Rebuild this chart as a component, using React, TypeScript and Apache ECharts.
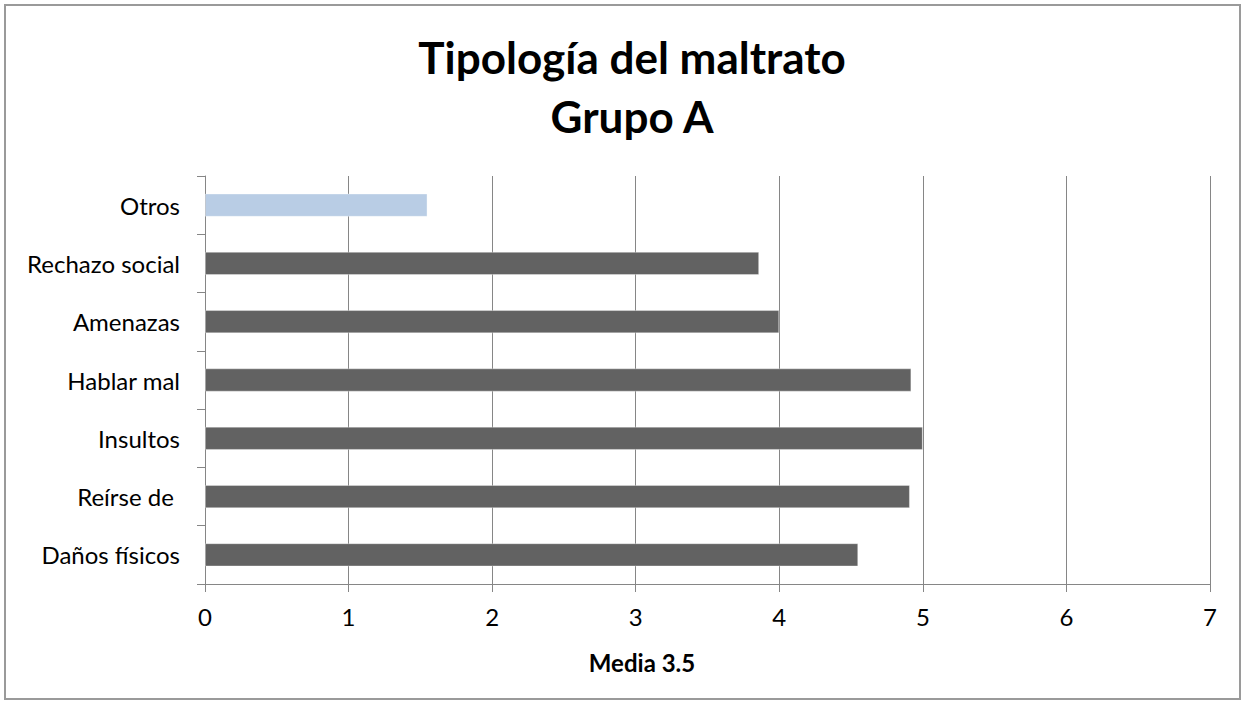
import React, { useEffect, useRef } from "react";
import * as echarts from "echarts";

const categories = ["Daños físicos", "Reírse de ", "Insultos", "Hablar mal", "Amenazas", "Rechazo social", "Otros"];
const values = [4.55, 4.91, 5.0, 4.92, 4.0, 3.86, 1.55];
const barColors = ["#626262", "#626262", "#626262", "#626262", "#626262", "#626262", "#b9cde5"];
const xTicks = { min: 0, max: 7, interval: 1 };
const titleLine1 = "Tipología del maltrato";
const titleLine2 = "Grupo A";
const xAxisTitle = "Media 3.5";

const FONT = "Lato";
const GRAY = "#868686";

export default function App() {
  const ref = useRef<HTMLDivElement>(null);
  useEffect(() => {
    if (!ref.current) return;
    const chart = echarts.init(ref.current, null, { renderer: "svg" });
    chart.setOption({
      animation: false,
      backgroundColor: "#ffffff",
      title: [
        {
          text: titleLine1,
          left: 627,
          top: 30,
          textAlign: "center",
          textStyle: { fontFamily: FONT, fontWeight: "bold", fontSize: 44, color: "#000" },
        },
        {
          text: titleLine2,
          left: 627,
          top: 89,
          textAlign: "center",
          textStyle: { fontFamily: FONT, fontWeight: "bold", fontSize: 44, color: "#000" },
        },
      ],
      graphic: [
        {
          type: "rect",
          shape: { x: 5, y: 5, width: 1235, height: 694 },
          style: { fill: "none", stroke: "#9a9a9a", lineWidth: 2 },
          silent: true,
        },
        {
          type: "text",
          x: 642,
          y: 662,
          style: {
            text: xAxisTitle,
            fontFamily: FONT,
            fontWeight: "bold",
            fontSize: 24,
            fill: "#000",
            align: "center",
            verticalAlign: "middle",
          },
        },
      ],
      grid: { left: 205, right: 36, top: 176, bottom: 120, containLabel: false },
      xAxis: {
        type: "value",
        min: xTicks.min,
        max: xTicks.max,
        interval: xTicks.interval,
        axisLine: { show: true, lineStyle: { color: GRAY, width: 1 } },
        axisTick: { show: true, inside: false, length: 8, lineStyle: { color: GRAY } },
        splitLine: { show: true, lineStyle: { color: GRAY, width: 1 } },
        axisLabel: { fontFamily: FONT, fontSize: 24, color: "#000", margin: 20 },
      },
      yAxis: {
        type: "category",
        data: categories,
        axisLine: { show: true, lineStyle: { color: GRAY, width: 1 } },
        axisTick: { show: true, inside: false, length: 8, lineStyle: { color: GRAY } },
        axisLabel: { fontFamily: FONT, fontSize: 24, color: "#000", margin: 25 },
      },
      series: [
        {
          type: "bar",
          data: values.map((v, i) => ({ value: v, itemStyle: { color: barColors[i] } })),
          barWidth: "40%",
          itemStyle: { borderColor: "rgba(255,255,255,0.35)", borderWidth: 1 },
        },
      ],
    });
    return () => chart.dispose();
  }, []);
  return <div ref={ref} style={{ position: "fixed", left: 0, top: 0, width: 1246, height: 704 }} />;
}
